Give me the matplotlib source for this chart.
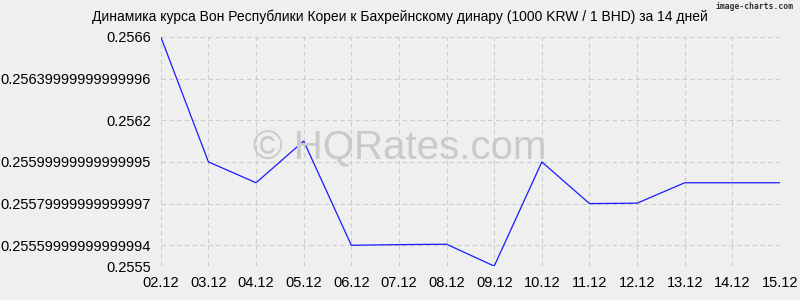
import matplotlib.pyplot as plt

dates = ['02.12', '03.12', '04.12', '05.12', '06.12', '07.12', '08.12',
         '09.12', '10.12', '11.12', '12.12', '13.12', '14.12', '15.12']
rates = [0.2566, 0.2560, 0.2559, 0.2561, 0.25560, 0.255603, 0.255605,
         0.2555, 0.2560, 0.25580, 0.255802, 0.2559, 0.2559, 0.2559]

ytick_vals = [0.2555, 0.2556, 0.2558, 0.2560, 0.2562, 0.2564, 0.2566]
ytick_labels = ['0.2555', '0.25559999999999994', '0.25579999999999997',
                '0.25599999999999995', '0.2562', '0.25639999999999996', '0.2566']

plt.rcParams['font.family'] = ['Liberation Sans', 'DejaVu Sans']
bg = '#efefef'

fig = plt.figure(figsize=(8, 3), dpi=100, facecolor=bg)
ax = fig.add_axes([0.201, 0.113, 0.774, 0.764], facecolor=bg)

x = list(range(len(dates)))
ax.plot(x, rates, color='#1a1aff', linewidth=0.9, zorder=3)

ax.set_xlim(0, len(dates) - 1)
ax.set_ylim(0.2555, 0.2566)
ax.set_xticks(x)
ax.set_xticklabels(dates, fontsize=10.5)
ax.set_yticks(ytick_vals)
ax.set_yticklabels(ytick_labels, fontsize=10.5)
ax.tick_params(length=0, pad=7)
ax.grid(True, color='#cccccc', linestyle=(0, (4, 3)), linewidth=0.8)
for s in ax.spines.values():
    s.set_visible(False)

# watermark, centred on the figure rather than the axes
fig.text(0.5, 0.505, '© HQRates.com', ha='center', va='center',
         fontsize=29, color='#cacaca', zorder=1)

fig.text(0.5, 0.945, 'Динамика курса Вон Республики Кореи к Бахрейнскому динару (1000 KRW / 1 BHD) за 14 дней',
         ha='center', va='center', fontsize=10)
fig.text(0.992, 0.992, 'image-charts.com', ha='right', va='top', fontsize=5.8,
         family='DejaVu Sans Mono', weight='bold', color='#333333')

fig.savefig('out.png', dpi=100, facecolor=bg)
